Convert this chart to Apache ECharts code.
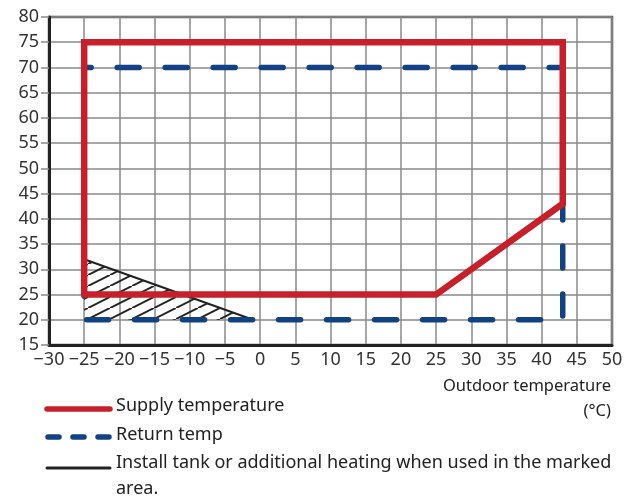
<!DOCTYPE html>
<html>
<head>
<meta charset="utf-8">
<script src="https://cdn.jsdelivr.net/npm/echarts@6/dist/echarts.min.js"></script>
<style>
html,body{margin:0;padding:0;background:#fff;}
#chart{width:625px;height:498px;}
</style>
</head>
<body>
<div id="chart"></div>
<script>
// ---- data ----
var xTicks = { min: -30, max: 50, interval: 5 };
var yTicks = { min: 15, max: 80, interval: 5 };
var supplyTemp = [[-25, 25], [-25, 75], [43, 75], [43, 43], [25, 25], [-25, 25]];
var returnTemp = [[-25, 70], [43, 70], [43, 20], [-25, 20], [-25, 70]];
var markedBorder = [[-25, 32], [-1, 20]];
var markedArea = [[-25, 32], [-1, 20], [-25, 20]];
var legendNames = ['Supply temperature', 'Return temp', 'Install tank or additional heating when used in the marked\narea.'];
var xAxisName = 'Outdoor temperature\n(°C)';

// hatch pattern
var pc = document.createElement('canvas');
pc.width = 22; pc.height = 11;
var pctx = pc.getContext('2d');
pctx.strokeStyle = '#222';
pctx.lineWidth = 2;
pctx.beginPath();
pctx.moveTo(-2, 12); pctx.lineTo(24, -1);
pctx.stroke();

var FONT = '"Noto Sans", "Open Sans", sans-serif';
var chart = echarts.init(document.getElementById('chart'), null, { renderer: 'canvas' });

var option = {
  animation: false,
  backgroundColor: '#fff',
  grid: { left: 49, right: 13, top: 17, bottom: 153, containLabel: false, outerBoundsMode: 'none',
    show: true, borderColor: '#555', borderWidth: 2.5, backgroundColor: 'transparent' },
  xAxis: {
    type: 'value', min: xTicks.min, max: xTicks.max, interval: xTicks.interval,
    axisLine: { onZero: false, lineStyle: { color: '#222', width: 3 } },
    axisTick: { show: false },
    splitLine: { lineStyle: { color: '#8a8a8a', width: 1.5 } },
    axisLabel: { color: '#333', fontSize: 18, fontFamily: FONT, margin: 6, showMinLabel: true, showMaxLabel: true, hideOverlap: false,
      formatter: function (v) { return String(v).replace('-', '\u2212'); } },
    name: xAxisName, nameLocation: 'end', nameGap: -1, nameMoveOverlap: false,
    nameTextStyle: { align: 'right', verticalAlign: 'top', color: '#222', fontSize: 16.5, fontFamily: FONT, lineHeight: 25, padding: [29, 0, 0, 0] }
  },
  yAxis: {
    type: 'value', min: yTicks.min, max: yTicks.max, interval: yTicks.interval,
    axisLine: { onZero: false, lineStyle: { color: '#222', width: 3 } },
    axisTick: { show: true, length: 8, lineStyle: { color: '#8a8a8a', width: 1.5 } },
    splitLine: { lineStyle: { color: '#8a8a8a', width: 1.5 } },
    axisLabel: { color: '#333', fontSize: 18, fontFamily: FONT, margin: 10, showMinLabel: true, showMaxLabel: true }
  },
  series: [
    {
      type: 'custom', name: 'hatch', z: 1, silent: true,
      data: [0],
      renderItem: function (params, api) {
        var pts = markedArea.map(function (p) { return api.coord(p); });
        return { type: 'polygon', shape: { points: pts }, style: { fill: { image: pc, repeat: 'repeat' }, stroke: null } };
      }
    },
    {
      type: 'line', name: legendNames[2], data: markedBorder, z: 2, symbol: 'none',
      lineStyle: { color: '#222', width: 2 }
    },
    {
      type: 'line', name: legendNames[1], data: returnTemp, z: 3, symbol: 'none',
      lineStyle: { color: '#114282', width: 5.5, type: [22, 26], dashOffset: 15, cap: 'round', join: 'round' }
    },
    {
      type: 'line', name: legendNames[0], data: supplyTemp, z: 4, symbol: 'none',
      lineStyle: { color: '#c8202a', width: 6.5, cap: 'round', join: 'miter' }
    }
  ],
  graphic: [
    { type: 'line', shape: { x1: 47, y1: 409, x2: 110, y2: 409 }, style: { stroke: '#c8202a', lineWidth: 5.5, lineCap: 'round' } },
    { type: 'text', x: 116, y: 406, style: { text: legendNames[0], fill: '#222', font: '18px ' + FONT, verticalAlign: 'middle' } },
    { type: 'line', shape: { x1: 48, y1: 437, x2: 112, y2: 437 }, style: { stroke: '#114282', lineWidth: 5.5, lineCap: 'round', lineDash: [11, 14] } },
    { type: 'text', x: 116, y: 435, style: { text: legendNames[1], fill: '#222', font: '18px ' + FONT, verticalAlign: 'middle' } },
    { type: 'line', shape: { x1: 47, y1: 468, x2: 110, y2: 468 }, style: { stroke: '#222', lineWidth: 3, lineCap: 'round' } },
    { type: 'text', x: 116, y: 450, style: { text: legendNames[2], fill: '#222', font: '18px ' + FONT, lineHeight: 26, verticalAlign: 'top' } }
  ]
};
chart.setOption(option);
</script>
</body>
</html>
